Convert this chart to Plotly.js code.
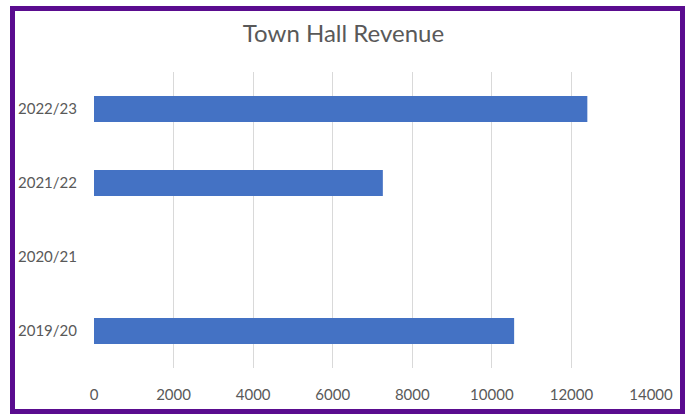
<!DOCTYPE html>
<html>
<head>
<meta charset="utf-8">
<script src="https://cdn.plot.ly/plotly-3.0.1.min.js"></script>
<style>
  html, body { margin: 0; padding: 0; background: #ffffff; }
  #wrap { position: relative; width: 687px; height: 414px; }
  #chart { position: absolute; left: 0; top: 0; width: 687px; height: 414px; }
  #frame { position: absolute; left: 10px; top: 6px; width: 665px; height: 398px;
           border: 5px solid #5a0c8f; pointer-events: none; }
</style>
</head>
<body>
<div id="wrap">
  <div id="chart"></div>
  <div id="frame"></div>
</div>
<script>
const categories = ["2019/20", "2020/21", "2021/22", "2022/23"];
const revenue = [10560, 0, 7260, 12400];
const xTickValues = [0, 2000, 4000, 6000, 8000, 10000, 12000, 14000];
const titleText = "Town Hall Revenue";

const textColor = "#595959";
const fontFamily = "Lato, 'Open Sans', sans-serif";

const data = [{
  type: "bar",
  orientation: "h",
  x: revenue,
  y: categories,
  marker: { color: "#4472C4" },
  hoverinfo: "x+y"
}];

const layout = {
  width: 687,
  height: 414,
  margin: { l: 94, r: 36, t: 72, b: 46, pad: 0 },
  paper_bgcolor: "#ffffff",
  plot_bgcolor: "#ffffff",
  showlegend: false,
  bargap: 0.65,
  title: {
    text: titleText,
    x: 0.5,
    xanchor: "center",
    y: 0.918,
    yanchor: "middle",
    font: { family: fontFamily, size: 24, color: textColor }
  },
  font: { family: fontFamily, color: textColor, size: 15 },
  xaxis: {
    range: [0, 14000],
    tickvals: xTickValues,
    ticktext: xTickValues.map(String),
    showgrid: true,
    gridcolor: "#d9d9d9",
    gridwidth: 1,
    zeroline: false,
    showline: false,
    ticks: "outside",
    ticklen: 13,
    tickcolor: "rgba(0,0,0,0)",
    tickfont: { family: fontFamily, size: 15, color: textColor },
    fixedrange: true
  },
  yaxis: {
    type: "category",
    categoryorder: "array",
    categoryarray: categories,
    showgrid: false,
    zeroline: false,
    showline: false,
    ticks: "outside",
    ticklen: 13,
    tickcolor: "rgba(0,0,0,0)",
    tickfont: { family: fontFamily, size: 15, color: textColor },
    fixedrange: true
  }
};

Plotly.newPlot("chart", data, layout, { displayModeBar: false, staticPlot: false });
</script>
</body>
</html>
